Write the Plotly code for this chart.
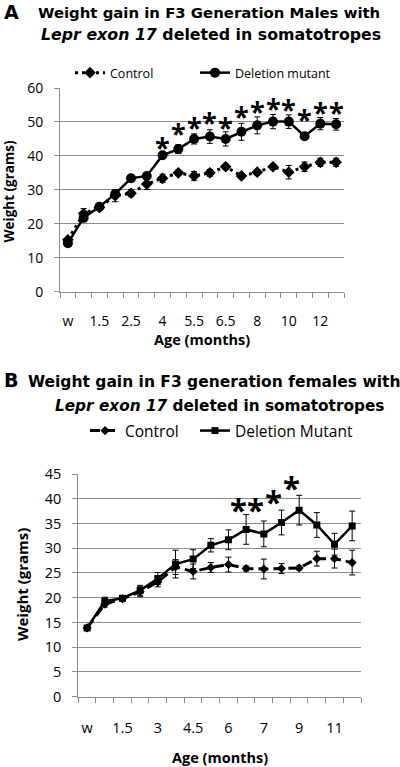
import plotly.graph_objects as go

# ---------------- Panel A (males) ----------------
ages_A = ["w", "1", "1.5", "2", "2.5", "3", "4", "5", "5.5", "6", "6.5", "7",
          "8", "9", "10", "11", "12", "13"]
ctrl_A = [15.3, 23.0, 24.8, 28.3, 29.0, 31.7, 33.4, 35.0, 34.1, 35.0, 36.8, 34.1,
          35.2, 36.8, 35.2, 36.8, 38.1, 38.1]
ctrl_A_err = [0.6, 1.5, 0.6, 1.8, 1.0, 1.6, 1.2, 0.8, 1.3, 1.0, 0.8, 0.8,
              0.8, 0.8, 2.0, 1.4, 1.2, 1.2]
mut_A = [14.3, 21.8, 25.0, 28.8, 33.4, 34.1, 40.2, 42.0, 45.0, 45.7, 45.0, 47.1,
         49.0, 50.1, 50.1, 45.8, 49.5, 49.3]
mut_A_err = [0.6, 1.2, 0.6, 1.0, 0.6, 0.8, 0.6, 1.3, 1.5, 2.0, 2.1, 2.5,
             2.5, 2.1, 2.0, 0.5, 1.8, 1.7]
sig_A = ["4", "5", "5.5", "6", "6.5", "7", "8", "9", "10", "11", "12", "13"]
star_A = [43.7, 47.8, 49.8, 51.1, 49.6, 53.0, 54.5, 55.3, 55.0, 52.0, 54.0, 54.0]

# ---------------- Panel B (females) ----------------
ages_B = ["w", "1", "1.5", "2", "3", "4", "4.5", "5", "6", "6.5", "7", "8",
          "9", "10", "11", "12"]
ctrl_B = [13.9, 18.7, 19.8, 21.2, 23.2, 26.2, 25.3, 26.1, 26.7, 25.9, 25.8, 25.9,
          26.0, 27.9, 27.9, 27.1]
ctrl_B_err = [0.4, 0.6, 0.5, 1.0, 1.0, 1.5, 1.5, 1.0, 1.5, 0.5, 2.0, 1.0,
              0.4, 1.5, 1.9, 2.5]
mut_B = [13.9, 19.3, 19.9, 21.5, 23.9, 26.8, 27.8, 30.6, 31.7, 33.8, 32.9, 35.2,
         37.7, 34.7, 30.8, 34.5]
mut_B_err = [0.4, 0.8, 0.5, 1.0, 1.2, 2.8, 1.9, 1.35, 2.0, 3.0, 2.6, 2.5,
             3.0, 2.5, 2.2, 3.0]
sig_B = ["6.5", "7", "8", "9"]
star_B = [38.7, 38.7, 40.3, 43.2]

W, H = 400, 767
FONT = "Open Sans"
TFONT = "DejaVu Sans"
GRID = "#8c8c8c"


def px(xp):
    return xp / W


def py(yp):
    return 1 - yp / H


xA = list(range(len(ages_A)))
xB = list(range(len(ages_B)))

fig = go.Figure()

# Panel A traces
fig.add_trace(go.Scatter(
    x=xA, y=ctrl_A, name="Control", mode="lines+markers",
    line=dict(color="black", width=3, dash="3px,4px"),
    marker=dict(symbol="diamond", size=9, color="black"),
    error_y=dict(type="data", array=ctrl_A_err, color="black", thickness=1, width=3),
    xaxis="x", yaxis="y", legend="legend"))
fig.add_trace(go.Scatter(
    x=xA, y=mut_A, name="Deletion mutant", mode="lines+markers",
    line=dict(color="black", width=2.5),
    marker=dict(symbol="circle", size=10, color="black"),
    error_y=dict(type="data", array=mut_A_err, color="black", thickness=1, width=3),
    xaxis="x", yaxis="y", legend="legend2"))

# Panel B traces
fig.add_trace(go.Scatter(
    x=xB, y=ctrl_B, name="Control", mode="lines+markers",
    line=dict(color="black", width=3, dash="10px,5px"),
    marker=dict(symbol="diamond", size=7, color="black"),
    error_y=dict(type="data", array=ctrl_B_err, color="black", thickness=1, width=3),
    xaxis="x2", yaxis="y2", legend="legend3"))
fig.add_trace(go.Scatter(
    x=xB, y=mut_B, name="Deletion Mutant", mode="lines+markers",
    line=dict(color="black", width=2.5),
    marker=dict(symbol="square", size=7, color="black"),
    error_y=dict(type="data", array=mut_B_err, color="black", thickness=1, width=3),
    xaxis="x2", yaxis="y2", legend="legend4"))


def xaxis_cfg(labels, domain, fsize, standoff, anchor):
    n = len(labels)
    return dict(
        domain=domain, range=[-0.5, n - 0.5], anchor=anchor,
        tickmode="array", tickvals=list(range(0, n, 2)), ticktext=labels[::2],
        ticks="", showgrid=False, zeroline=False,
        showline=True, linecolor=GRID, linewidth=1,
        minor=dict(tick0=-0.5, dtick=1, ticks="outside", ticklen=5,
                   tickcolor=GRID, tickwidth=1, showgrid=False),
        tickfont=dict(family=FONT, size=fsize, color="black"),
        ticklabelstandoff=standoff, fixedrange=True)


def yaxis_cfg(rng, dtick, domain, fsize, anchor):
    return dict(
        domain=domain, range=rng, dtick=dtick, tick0=0, anchor=anchor,
        showgrid=True, gridcolor=GRID, gridwidth=1, zeroline=False,
        showline=True, linecolor=GRID, linewidth=1,
        ticks="outside", ticklen=5, tickcolor=GRID, tickwidth=1,
        tickfont=dict(family=FONT, size=fsize, color="black"),
        ticklabelstandoff=8, fixedrange=True)


def legend_cfg(xp, yp, fsize):
    return dict(orientation="h", x=px(xp), xanchor="left", y=py(yp), yanchor="middle",
                font=dict(family=FONT, size=fsize, color="black"),
                bgcolor="rgba(0,0,0,0)")


fig.update_layout(
    width=W, height=H,
    margin=dict(l=0, r=0, t=0, b=0, autoexpand=False),
    paper_bgcolor="white", plot_bgcolor="white",
    font=dict(family=FONT, color="black"),
    xaxis=xaxis_cfg(ages_A, [px(60), px(344)], 14, 16, "y"),
    yaxis=yaxis_cfg([0, 60], 10, [py(291.7), py(88)], 14, "x"),
    xaxis2=xaxis_cfg(ages_B, [px(78.3), px(361)], 14.5, 18, "y2"),
    yaxis2=yaxis_cfg([0, 45], 5, [py(696.7), py(474)], 14.5, "x2"),
    legend=legend_cfg(70, 73, 12.5),
    legend2=legend_cfg(195, 73, 12.5),
    legend3=legend_cfg(85, 431, 15.5),
    legend4=legend_cfg(195, 431, 15.5),
    showlegend=True,
)

ann = []
# Panel labels
ann.append(dict(text="<b>A</b>", x=px(2), y=py(12), xanchor="left", yanchor="middle",
                font=dict(family=TFONT, size=19, color="black")))
ann.append(dict(text="<b>B</b>", x=px(2), y=py(380), xanchor="left", yanchor="middle",
                font=dict(family=TFONT, size=19, color="black")))
# Titles
ann.append(dict(text="<b>Weight gain in F3 Generation Males with</b>",
                x=px(208.5), y=py(13), xanchor="center", yanchor="middle",
                font=dict(family=TFONT, size=14.9, color="black")))
ann.append(dict(text="<b><i>Lepr exon 17</i> deleted in somatotropes</b>",
                x=px(211), y=py(34), xanchor="center", yanchor="middle",
                font=dict(family=TFONT, size=15.8, color="black")))
ann.append(dict(text="<b>Weight gain in F3 generation females with</b>",
                x=px(214), y=py(382), xanchor="center", yanchor="middle",
                font=dict(family=TFONT, size=15.5, color="black")))
ann.append(dict(text="<b><i>Lepr exon 17</i> deleted in somatotropes</b>",
                x=px(219), y=py(406), xanchor="center", yanchor="middle",
                font=dict(family=TFONT, size=15.3, color="black")))
# Axis titles
ann.append(dict(text="<b>Age (months)</b>", x=px(202), y=py(339), xanchor="center",
                yanchor="middle", font=dict(family=FONT, size=14.5, color="black")))
ann.append(dict(text="<b>Weight (grams)</b>", x=px(8.5), y=py(192), xanchor="center",
                yanchor="middle", textangle=-90,
                font=dict(family=FONT, size=13.5, color="black")))
ann.append(dict(text="<b>Age (months)</b>", x=px(220), y=py(757), xanchor="center",
                yanchor="middle", font=dict(family=FONT, size=14.5, color="black")))
ann.append(dict(text="<b>Weight (grams)</b>", x=px(22), y=py(585), xanchor="center",
                yanchor="middle", textangle=-90,
                font=dict(family=FONT, size=15, color="black")))
STAR_A, STAR_B = 27, 31
for xi, sy in zip(sig_A, star_A):
    ann.append(dict(text="<b>*</b>", x=ages_A.index(xi), y=sy, xref="x", yref="y",
                    showarrow=False, xanchor="center", yanchor="middle",
                    yshift=-0.13 * STAR_A,
                    font=dict(family=FONT, size=STAR_A, color="black")))
for xi, sy in zip(sig_B, star_B):
    ann.append(dict(text="<b>*</b>", x=ages_B.index(xi), y=sy, xref="x2", yref="y2",
                    showarrow=False, xanchor="center", yanchor="middle",
                    yshift=-0.13 * STAR_B, xshift=-8,
                    font=dict(family=FONT, size=STAR_B, color="black")))
for a in ann:
    a.setdefault("xref", "paper")
    a.setdefault("yref", "paper")
    a.setdefault("showarrow", False)
fig.update_layout(annotations=ann)

fig.write_html("out.html",
               config={"displayModeBar": False},
               post_script="document.body.style.margin='0px';")
